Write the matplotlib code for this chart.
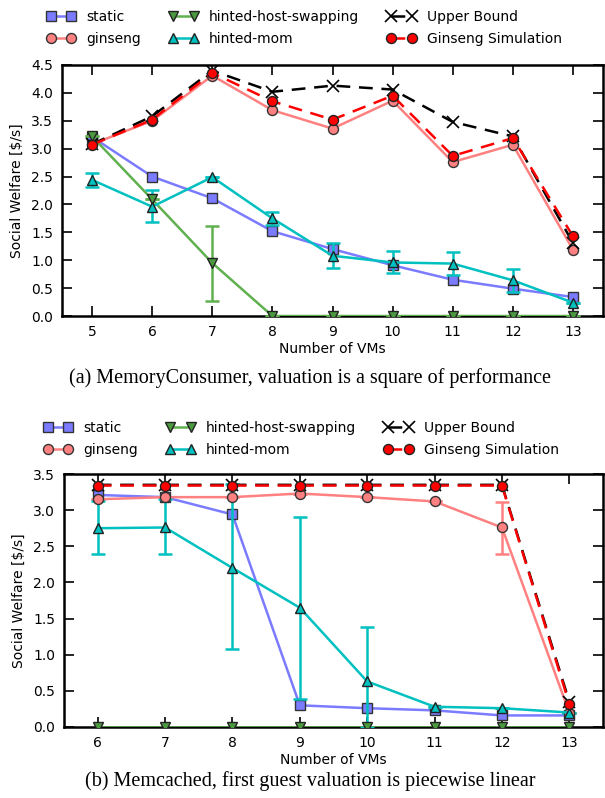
import matplotlib
matplotlib.use("Agg")
import matplotlib.pyplot as plt
import numpy as np

# ---------------- data: (a) MemoryConsumer ----------------
vms_a = [5, 6, 7, 8, 9, 10, 11, 12, 13]
static_a = [3.21, 2.50, 2.11, 1.52, 1.20, 0.91, 0.65, 0.49, 0.34]
ginseng_a = [3.08, 3.50, 4.31, 3.69, 3.36, 3.86, 2.76, 3.07, 1.19]
hhs_a = [3.22, 2.09, 0.95, 0.0, 0.0, 0.0, 0.0, 0.0, 0.0]
hhs_err_lo_a = [0, 0, 0.68, 0, 0, 0, 0, 0, 0]
hhs_err_hi_a = [0, 0, 0.67, 0, 0, 0, 0, 0, 0]
mom_a = [2.44, 1.96, 2.49, 1.75, 1.08, 0.96, 0.94, 0.64, 0.24]
mom_err_lo_a = [0.12, 0.28, 0.0, 0.12, 0.22, 0.19, 0.21, 0.21, 0.0]
mom_err_hi_a = [0.12, 0.30, 0.0, 0.12, 0.23, 0.21, 0.21, 0.21, 0.0]
upper_a = [3.08, 3.58, 4.40, 4.02, 4.13, 4.06, 3.48, 3.22, 1.31]
sim_a = [3.07, 3.52, 4.36, 3.85, 3.52, 3.95, 2.87, 3.19, 1.43]

# ---------------- data: (b) Memcached ----------------
vms_b = [6, 7, 8, 9, 10, 11, 12, 13]
static_b = [3.21, 3.18, 2.94, 0.30, 0.26, 0.23, 0.16, 0.16]
ginseng_b = [3.15, 3.18, 3.18, 3.23, 3.18, 3.12, 2.76, 0.20]
gin_err_lo_b = [0, 0, 0, 0, 0, 0, 0.36, 0]
gin_err_hi_b = [0, 0, 0, 0, 0, 0, 0.35, 0]
hhs_b = [0.0, 0.0, 0.0, 0.0, 0.0, 0.0, 0.0, 0.0]
mom_b = [2.75, 2.76, 2.20, 1.65, 0.63, 0.28, 0.26, 0.20]
mom_err_lo_b = [0.35, 0.36, 1.12, 1.26, 0.63, 0, 0, 0]
mom_err_hi_b = [0.37, 0.40, 1.16, 1.26, 0.75, 0, 0, 0]
upper_b = [3.35, 3.35, 3.35, 3.35, 3.35, 3.35, 3.35, 0.35]
sim_b = [3.34, 3.34, 3.34, 3.34, 3.34, 3.34, 3.34, 0.32]

labels = ["static", "ginseng", "hinted-host-swapping", "hinted-mom",
          "Upper Bound", "Ginseng Simulation"]
caption_a = "(a) MemoryConsumer, valuation is a square of performance"
caption_b = "(b) Memcached, first guest valuation is piecewise linear"

C_STATIC = "#7b7bff"
C_GIN = "#ff8080"
C_HHS = "#60b050"
C_HHS_M = "#4c9a40"
C_MOM = "#00c0c0"

plt.rcParams["font.family"] = ["DejaVu Sans"]
plt.rcParams["font.size"] = 10

fig = plt.figure(figsize=(6.05, 7.98), dpi=100)
ax1 = fig.add_axes([62/605, 1-316/798, (603-62)/605, (316-65)/798])
ax2 = fig.add_axes([64/605, 1-727/798, (603-64)/605, (727-474)/798])

ms = 7.2
lw = 1.8
eb = dict(elinewidth=lw, capsize=5, capthick=lw)


def draw(ax, x, st, gi, gi_err, hh, hh_err, mo, mo_err, ub, si):
    h = []
    h.append(ax.plot(x, st, "-s", color=C_STATIC, mfc=C_STATIC,
                     mec="#333333", ms=ms, lw=lw, zorder=3)[0])
    c = ax.errorbar(x, gi, yerr=gi_err, fmt="-o", color=C_GIN, mfc=C_GIN,
                    mec="#333333", ms=ms, lw=lw, zorder=3, **eb)
    h.append(c.lines[0])
    c = ax.errorbar(x, hh, yerr=hh_err, fmt="-v", color=C_HHS, mfc=C_HHS_M,
                    mec="#222222", ms=ms, lw=lw, zorder=3, **eb)
    h.append(c.lines[0])
    c = ax.errorbar(x, mo, yerr=mo_err, fmt="-^", color=C_MOM, mfc=C_MOM,
                    mec="#222222", ms=ms, lw=lw, zorder=3, **eb)
    h.append(c.lines[0])
    h.append(ax.plot(x, ub, "--x", color="black", ms=9, mew=1.2, lw=lw,
                     dashes=(5.5, 3.5), zorder=4)[0])
    h.append(ax.plot(x, si, "--o", color="red", mfc="red", mec="#222222",
                     ms=ms, lw=lw, dashes=(5.5, 3.5), zorder=5)[0])
    return h


zeros_a = [0] * len(vms_a)
zeros_b = [0] * len(vms_b)
h1 = draw(ax1, vms_a, static_a, ginseng_a, None, hhs_a,
          [hhs_err_lo_a, hhs_err_hi_a], mom_a, [mom_err_lo_a, mom_err_hi_a],
          upper_a, sim_a)
h2 = draw(ax2, vms_b, static_b, ginseng_b, [gin_err_lo_b, gin_err_hi_b],
          hhs_b, None, mom_b, [mom_err_lo_b, mom_err_hi_b], upper_b, sim_b)

ax1.set_xlim(4.5, 13.5)
ax1.set_ylim(0, 4.5)
ax1.set_xticks(vms_a)
ax1.set_yticks(np.arange(0, 4.51, 0.5))
ax2.set_xlim(5.5, 13.5)
ax2.set_ylim(0, 3.5)
ax2.set_xticks(vms_b)
ax2.set_yticks(np.arange(0, 3.51, 0.5))

for ax in (ax1, ax2):
    ax.set_xlabel("Number of VMs", labelpad=2)
    ax.set_ylabel(r"Social Welfare [\$/s]", labelpad=5)
    ax.tick_params(direction="in", top=True, right=True, length=7,
                   width=1.2, pad=6.5, labelsize=10)
    for s in ax.spines.values():
        s.set_linewidth(1.8)
    ax.yaxis.set_major_formatter(matplotlib.ticker.FormatStrFormatter("%.1f"))

for h, xl, yc in ((h1, 46.8, 28.3), (h2, 43.8, 439.2)):
    fig.legend(h, labels, loc="center left",
               bbox_to_anchor=(xl/605, 1 - yc/798), ncol=3, frameon=False,
               numpoints=2, handlelength=2.07, handletextpad=0.8,
               columnspacing=2.0, labelspacing=0.58, fontsize=10,
               borderaxespad=0, borderpad=0)

fig.text(0.512, 1 - 378/798, caption_a, ha="center", va="center",
         family="Liberation Serif", fontsize=14.5)
fig.text(0.512, 1 - 781/798, caption_b, ha="center", va="center",
         family="Liberation Serif", fontsize=14.5)

fig.savefig("out.png", dpi=100)
